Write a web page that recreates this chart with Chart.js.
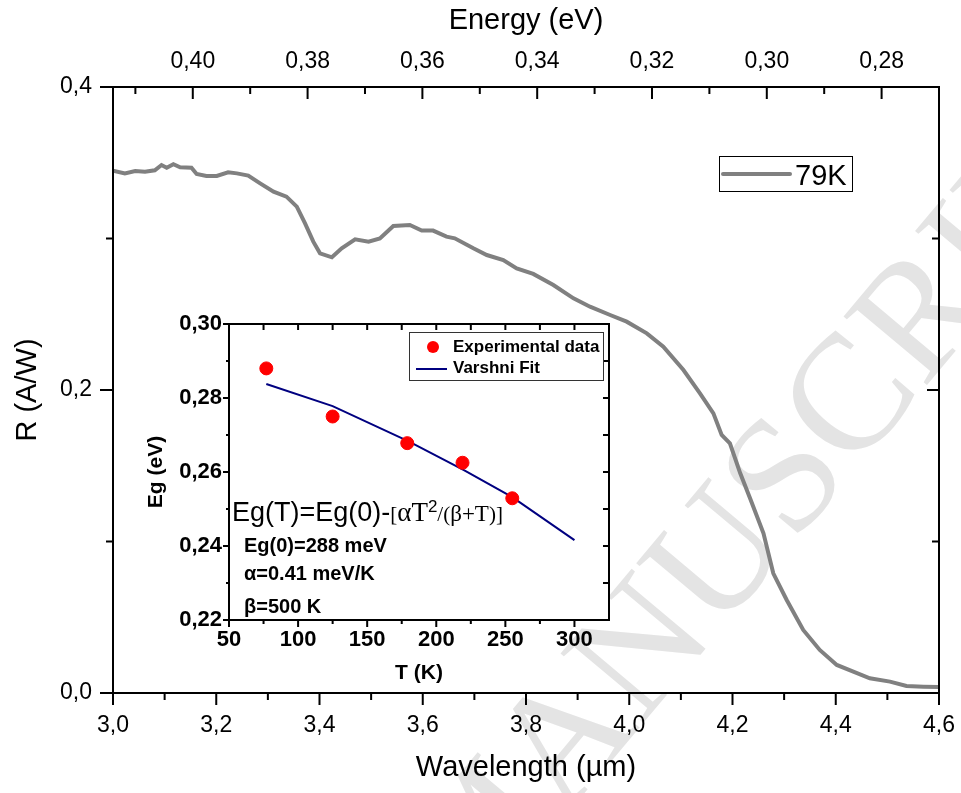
<!DOCTYPE html>
<html>
<head>
<meta charset="utf-8">
<script src="https://cdn.jsdelivr.net/npm/chart.js@4.4.0/dist/chart.umd.min.js"></script>
<style>
  html, body { margin: 0; padding: 0; background: #fff; }
  #wrap { position: relative; width: 961px; height: 793px; }
  #main { position: absolute; left: 0; top: 0; }
  #inset { position: absolute; left: 130px; top: 300px; }
</style>
</head>
<body>
<div id="wrap">
  <canvas id="main" width="961" height="793"></canvas>
  <canvas id="inset" width="490" height="395"></canvas>
</div>
<script>
// spectral response at 79 K
const wavelength = [3.000, 3.023, 3.043, 3.062, 3.081, 3.094, 3.104, 3.117, 3.130, 3.152, 3.162, 3.181, 3.201, 3.223, 3.240, 3.262,
  3.285, 3.311, 3.336, 3.356, 3.372, 3.388, 3.401, 3.424, 3.443, 3.469, 3.495, 3.517, 3.543, 3.575, 3.598, 3.620, 3.646, 3.662,
  3.698, 3.724, 3.756, 3.782, 3.814, 3.853, 3.892, 3.924, 3.963, 3.995, 4.034, 4.066, 4.105, 4.137, 4.163, 4.179, 4.195, 4.215,
  4.234, 4.260, 4.279, 4.305, 4.337, 4.369, 4.402, 4.434, 4.466, 4.505, 4.537, 4.570, 4.600];
const response = [0.3448, 0.3430, 0.3446, 0.3440, 0.3450, 0.3485, 0.3467, 0.3490, 0.3470, 0.3467, 0.3426, 0.3413, 0.3413, 0.3437, 0.3430, 0.3415,
  0.3364, 0.3309, 0.3276, 0.3210, 0.3100, 0.2979, 0.2902, 0.2876, 0.2935, 0.2995, 0.2979, 0.3001, 0.3083, 0.3089, 0.3052, 0.3052, 0.3012, 0.3001,
  0.2935, 0.2891, 0.2858, 0.2803, 0.2766, 0.2693, 0.2605, 0.2550, 0.2495, 0.2451, 0.2374, 0.2286, 0.2132, 0.1978, 0.1846, 0.1703, 0.1648, 0.1450,
  0.1285, 0.1054, 0.0790, 0.0614, 0.0416, 0.0284, 0.0185, 0.0141, 0.0097, 0.0075, 0.0046, 0.0042, 0.0040];
const seriesLabel = '79K';

// band gap vs temperature (inset)
const tempK = [77, 125, 179, 219, 255];
const egMeasured = [0.288, 0.275, 0.2678, 0.2625, 0.2529];
const fitT = [77, 125, 180, 220, 255, 300];
const fitEg = [0.2838, 0.2778, 0.2683, 0.2605, 0.2532, 0.2416];

// ticks
const waveTicks = [3.0, 3.2, 3.4, 3.6, 3.8, 4.0, 4.2, 4.4, 4.6];
const waveMinor = [3.1, 3.3, 3.5, 3.7, 3.9, 4.1, 4.3, 4.5];
const rTicks = [0.0, 0.2, 0.4];
const rMinor = [0.1, 0.3];
const energyTicks = [0.40, 0.38, 0.36, 0.34, 0.32, 0.30, 0.28];
const energyMinor = [0.41, 0.39, 0.37, 0.35, 0.33, 0.31, 0.29];
const tTicks = [50, 100, 150, 200, 250, 300];
const tMinor = [75, 125, 175, 225, 275];
const egTicks = [0.22, 0.24, 0.26, 0.28, 0.30];
const egMinor = [0.23, 0.25, 0.27, 0.29];

const SANS = "Arial, 'Liberation Sans', sans-serif";
const SERIF = "'Times New Roman', 'Liberation Serif', serif";
Chart.defaults.font.family = SANS;
Chart.defaults.color = '#000';

const comma = (v, d) => Number(v).toFixed(d).replace('.', ',');
const fixTicks = vals => s => { s.ticks = vals.map(v => ({ value: v })); };
// fixed scale box size, no extra room for labels hanging past the plot edges
const fixSize = (w, h) => s => {
  if (w) s.width = w;
  if (h) s.height = h;
  s.paddingLeft = s.paddingRight = s.paddingTop = s.paddingBottom = 0;
};

// tick marks along one side of the plot box; out=true points away from the data
function marks(ctx, area, side, scale, values, len, out) {
  const s = out ? 1 : -1;
  ctx.beginPath();
  values.forEach(v => {
    const p = scale.getPixelForValue(v);
    if (side === 'bottom') { ctx.moveTo(p, area.bottom); ctx.lineTo(p, area.bottom + s * len); }
    if (side === 'top') { ctx.moveTo(p, area.top); ctx.lineTo(p, area.top - s * len); }
    if (side === 'left') { ctx.moveTo(area.left, p); ctx.lineTo(area.left - s * len, p); }
    if (side === 'right') { ctx.moveTo(area.right, p); ctx.lineTo(area.right + s * len, p); }
  });
  ctx.stroke();
}

const mainDecor = {
  id: 'mainDecor',
  // faint watermark underneath everything else
  beforeDraw(chart) {
    const ctx = chart.ctx;
    ctx.save();
    ctx.translate(778, 495);
    ctx.rotate(-50 * Math.PI / 180);
    ctx.font = '165px ' + SERIF;
    ctx.fillStyle = '#e4e4e4';
    ctx.textAlign = 'center';
    ctx.textBaseline = 'middle';
    ctx.fillText('MANUSCRIPT', 0, 0);
    ctx.restore();
  },
  afterDraw(chart) {
    const ctx = chart.ctx, a = chart.chartArea;
    const x = chart.scales.x, y = chart.scales.y, top = chart.scales.xTop;
    ctx.save();
    ctx.strokeStyle = '#000';
    ctx.lineWidth = 2;
    ctx.strokeRect(a.left, a.top, a.right - a.left, a.bottom - a.top);
    marks(ctx, a, 'bottom', x, waveTicks, 12, true);
    marks(ctx, a, 'bottom', x, waveMinor, 7, true);
    marks(ctx, a, 'left', y, rTicks, 13, true);
    marks(ctx, a, 'left', y, rMinor, 7, true);
    marks(ctx, a, 'right', y, rTicks, 12, false);
    marks(ctx, a, 'right', y, rMinor, 7, false);
    marks(ctx, a, 'top', top, energyTicks, 12, false);
    marks(ctx, a, 'top', top, energyMinor, 7, false);

    // legend box
    const ds = chart.data.datasets[0];
    ctx.lineWidth = 1;
    ctx.strokeRect(719.5, 156.5, 133, 35);
    ctx.strokeStyle = ds.borderColor;
    ctx.lineWidth = 4;
    ctx.lineCap = 'round';
    ctx.beginPath();
    ctx.moveTo(723, 174);
    ctx.lineTo(790, 174);
    ctx.stroke();
    ctx.fillStyle = '#000';
    ctx.font = '29px ' + SANS;
    ctx.textBaseline = 'alphabetic';
    ctx.fillText(ds.label, 795, 185);
    ctx.restore();
  }
};

new Chart(document.getElementById('main'), {
  type: 'line',
  data: {
    datasets: [{
      label: seriesLabel,
      data: wavelength.map((w, i) => ({ x: w, y: response[i] })),
      borderColor: '#808080',
      borderWidth: 4,
      pointRadius: 0,
      tension: 0,
      fill: false,
      xAxisID: 'x',
      yAxisID: 'y'
    }]
  },
  options: {
    responsive: false,
    animation: false,
    events: [],
    layout: { padding: { right: 22 } },
    plugins: { legend: { display: false }, tooltip: { enabled: false } },
    scales: {
      x: {
        type: 'linear', position: 'bottom', min: 3.0, max: 4.6,
        afterBuildTicks: fixTicks(waveTicks),
        afterFit: fixSize(0, 100),
        grid: { display: false, drawTicks: false },
        border: { display: false },
        ticks: { padding: 19, font: { size: 23 }, maxRotation: 0, autoSkip: false, callback: v => comma(v, 1) },
        title: { display: true, text: 'Wavelength (µm)', font: { size: 29 }, padding: { top: 0, bottom: 8 } }
      },
      xTop: {
        type: 'linear', position: 'top', reverse: true, min: 0.2700, max: 0.4139,
        afterBuildTicks: fixTicks(energyTicks),
        afterFit: fixSize(0, 87),
        grid: { display: false, drawTicks: false },
        border: { display: false },
        ticks: { padding: 12, font: { size: 23 }, maxRotation: 0, autoSkip: false, callback: v => comma(v, 2) },
        title: { display: true, text: 'Energy (eV)', font: { size: 29 }, padding: { top: 4, bottom: 0 } }
      },
      y: {
        type: 'linear', position: 'left', min: 0, max: 0.4,
        afterBuildTicks: fixTicks(rTicks),
        afterFit: fixSize(113, 0),
        grid: { display: false, drawTicks: false },
        border: { display: false },
        ticks: { padding: 21, font: { size: 23 }, callback: v => comma(v, 1) },
        title: { display: true, text: 'R (A/W)', font: { size: 29 }, padding: { top: 11, bottom: 0 } }
      }
    }
  },
  plugins: [mainDecor]
});

// inset: box, ticks, legend and Varshni relation
const insetDecor = {
  id: 'insetDecor',
  afterDraw(chart) {
    const ctx = chart.ctx, a = chart.chartArea;
    const x = chart.scales.x, y = chart.scales.y;
    ctx.save();
    ctx.strokeStyle = '#000';
    ctx.lineWidth = 2;
    ctx.strokeRect(a.left, a.top, a.right - a.left, a.bottom - a.top);
    marks(ctx, a, 'bottom', x, tTicks, 7, true);
    marks(ctx, a, 'bottom', x, tMinor, 4, true);
    marks(ctx, a, 'top', x, tTicks.concat(tMinor), 6, false);
    marks(ctx, a, 'left', y, egTicks, 6, true);
    marks(ctx, a, 'left', y, egMinor, 3, true);
    marks(ctx, a, 'right', y, egTicks.concat(egMinor), 6, false);

    // legend
    const pts = chart.data.datasets[0], fit = chart.data.datasets[1];
    const lx = a.left + 180, ly = a.top + 8;
    ctx.lineWidth = 1;
    ctx.strokeStyle = '#333';
    ctx.strokeRect(lx + 0.5, ly + 0.5, 194, 48);
    ctx.fillStyle = pts.backgroundColor;
    ctx.beginPath();
    ctx.arc(lx + 24, ly + 15, 6, 0, Math.PI * 2);
    ctx.fill();
    ctx.strokeStyle = fit.borderColor;
    ctx.lineWidth = 2;
    ctx.beginPath();
    ctx.moveTo(lx + 7, ly + 37);
    ctx.lineTo(lx + 38, ly + 37);
    ctx.stroke();
    ctx.fillStyle = '#000';
    ctx.font = 'bold 17px ' + SANS;
    ctx.fillText(pts.label, lx + 44, ly + 20);
    ctx.fillText(fit.label, lx + 44, ly + 41);

    // Varshni expression
    const parts = [
      { t: 'Eg(T)=Eg(0)-', f: '27px ' + SANS, dy: 0 },
      { t: '[', f: '21px ' + SERIF, dy: 0 },
      { t: 'αT', f: '27px ' + SERIF, dy: 0 },
      { t: '2', f: '17px ' + SANS, dy: -9 },
      { t: '/(', f: '21px ' + SERIF, dy: 0 },
      { t: 'β+T', f: '23px ' + SERIF, dy: 0 },
      { t: ')]', f: '21px ' + SERIF, dy: 0 }
    ];
    let px = a.left + 3;
    const base = a.top + 197;
    parts.forEach(p => {
      ctx.font = p.f;
      ctx.fillText(p.t, px, base + p.dy);
      px += ctx.measureText(p.t).width;
    });
    ctx.font = 'bold 20px ' + SANS;
    ctx.fillText('Eg(0)=288 meV', a.left + 15, a.top + 228);
    ctx.fillText('α=0.41 meV/K', a.left + 15, a.top + 256);
    ctx.fillText('β=500 K', a.left + 15, a.top + 289);
    ctx.restore();
  }
};

new Chart(document.getElementById('inset'), {
  type: 'scatter',
  data: {
    datasets: [{
      label: 'Experimental data',
      data: tempK.map((t, i) => ({ x: t, y: egMeasured[i] })),
      backgroundColor: '#ff0000',
      borderColor: '#ff0000',
      pointRadius: 6.5,
      showLine: false
    }, {
      label: 'Varshni Fit',
      data: fitT.map((t, i) => ({ x: t, y: fitEg[i] })),
      borderColor: '#000080',
      backgroundColor: '#000080',
      borderWidth: 2,
      pointRadius: 0,
      showLine: true,
      tension: 0
    }]
  },
  options: {
    responsive: false,
    animation: false,
    events: [],
    layout: { padding: { top: 24, right: 11 } },
    plugins: { legend: { display: false }, tooltip: { enabled: false } },
    scales: {
      x: {
        type: 'linear', min: 50, max: 325,
        afterBuildTicks: fixTicks(tTicks),
        afterFit: fixSize(0, 75),
        grid: { display: false, drawTicks: false },
        border: { display: false },
        ticks: { padding: 7, font: { size: 22, weight: 'bold' }, maxRotation: 0, autoSkip: false },
        title: { display: true, text: 'T (K)', font: { size: 21, weight: 'bold' }, padding: { top: 0, bottom: 9 } }
      },
      y: {
        type: 'linear', min: 0.22, max: 0.30,
        afterBuildTicks: fixTicks(egTicks),
        afterFit: fixSize(99, 0),
        grid: { display: false, drawTicks: false },
        border: { display: false },
        ticks: { padding: 7, font: { size: 22, weight: 'bold' }, callback: v => comma(v, 2) },
        title: { display: true, text: 'Eg (eV)', font: { size: 21, weight: 'bold' }, padding: { top: 14, bottom: 0 } }
      }
    }
  },
  plugins: [insetDecor]
});
</script>
</body>
</html>
